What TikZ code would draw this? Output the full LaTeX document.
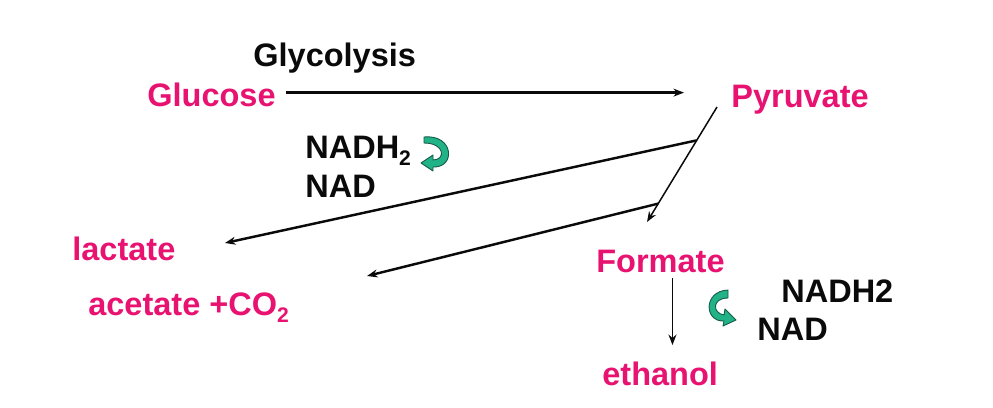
\documentclass[tikz,border=0pt]{standalone}
\usepackage{fontspec}
\setmainfont{Liberation Sans}
\usepackage{xcolor}
\usepackage{tikz}
\usetikzlibrary{
  arrows.meta,
  positioning,
  calc
}
\definecolor{xpink}{RGB}{232,18,112}
\definecolor{xteal}{RGB}{34,178,136}
\definecolor{xtealdark}{RGB}{20,90,70}
\definecolor{xdark}{RGB}{10,10,10}
\newcommand{\lowsub}[1]{\raisebox{-4pt}{\fontsize{12}{12}\selectfont #1}}

\begin{document}
\begin{tikzpicture}[
  x=0.02cm, y=-0.02cm,
  metab/.style={anchor=base west, inner sep=0pt, text=xpink,
                font=\fontsize{18.5}{22}\selectfont\bfseries},
  label/.style={anchor=base west, inner sep=0pt, text=xdark,
                font=\fontsize{18.5}{22}\selectfont\bfseries},
  arr/.style={-{Stealth[length=6pt,width=4.5pt]}, line width=1.4pt, color=xdark},
  thinarr/.style={-{Stealth[length=6pt,width=4.5pt]}, line width=0.85pt, color=xdark},
  curl/.style={fill=xteal, draw=xtealdark, line width=0.5pt, line join=round}
]
  \useasboundingbox (0,0) rectangle (993,407);

  \node[label] (glyc)     at (253,66)  {Glycolysis};
  \node[metab] (glucose)  at (147,106) {Glucose};
  \node[metab] (pyruvate) at (731,107) {Pyruvate};
  \node[metab] (lactate)  at (72,260)  {lactate};
  \node[metab] (acetate)  at (88,315)  {acetate +CO\lowsub{2}};
  \node[metab] (formate)  at (596,272) {Formate};
  \node[metab] (ethanol)  at (602,385) {ethanol};

  % cofactors
  \node[label] (nadh)  at (305,158) {NADH\lowsub{2}};
  \node[label] (nad)   at (305,197) {NAD};
  \node[label] (nadhb) at (781,302) {NADH2};
  \node[label] (nadb)  at (757,340) {NAD};

  % branch points
  \coordinate (split) at (717,107);
  \coordinate (fork)  at (647,222);
  \path (split) -- (fork) coordinate[pos=0.29] (br1) coordinate[pos=0.84] (br2);
  \coordinate (lacend) at (225,243);
  \coordinate (acend)  at (367,276);

  \draw[arr] ([xshift=0.2cm, yshift=1pt]glucose.east) -- ([xshift=-0.94cm, yshift=1pt]glucose.east -| pyruvate.west);
  \draw[thinarr] (split) -- (fork);
  \draw[arr] (br1) -- (lacend);
  \draw[arr] (br2) -- (acend);
  \draw[thinarr, line width=1.1pt, shorten <=3pt, shorten >=0.32cm] ([xshift=0.24cm]formate.south) -- ([xshift=0.24cm]formate.south |- ethanol.north);

  % redox curls
  \draw[curl] (424,137) .. controls (454,134) and (456,168) .. (433,167)
    -- (433,171) -- (421,163) -- (433,155) -- (433,160)
    .. controls (446,160) and (445,143) .. (424,143) -- cycle;
  \draw[curl] (728,290) .. controls (703,291) and (704,322) .. (724,321)
    -- (723,326) -- (736,320) -- (725,309) -- (724,315)
    .. controls (712,313) and (712,298) .. (728,298) -- cycle;
\end{tikzpicture}
\end{document}
